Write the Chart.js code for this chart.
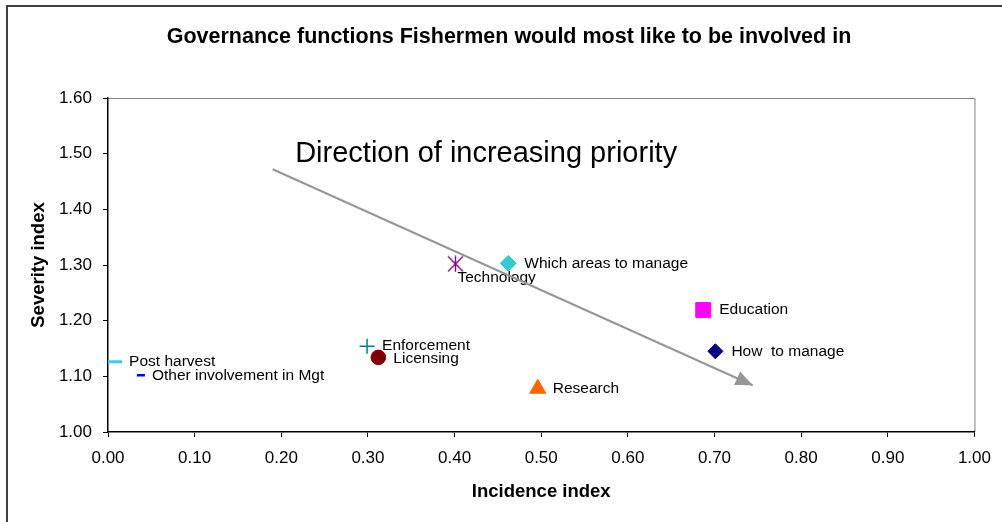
<!DOCTYPE html>
<html>
<head>
<meta charset="utf-8">
<script src="https://cdn.jsdelivr.net/npm/chart.js@4.4.1/dist/chart.umd.min.js"></script>
<style>
  html, body { margin: 0; padding: 0; background: #fff; }
  #wrap { width: 1002px; height: 522px; }
</style>
</head>
<body>
<div id="wrap"><canvas id="chart" width="1002" height="522"></canvas></div>
<script>
// Chart data
const categories = [
  'Post harvest',
  'Other involvement in Mgt',
  'Enforcement',
  'Licensing',
  'Technology',
  'Which areas to manage',
  'Education',
  'How  to manage',
  'Research'
];
const incidence = [0.007, 0.038, 0.299, 0.312, 0.401, 0.462, 0.687, 0.701, 0.496];
const severity  = [1.126, 1.102, 1.154, 1.134, 1.302, 1.303, 1.219, 1.145, 1.078];

const xTickLabels = ['0.00', '0.10', '0.20', '0.30', '0.40', '0.50', '0.60', '0.70', '0.80', '0.90', '1.00'];
const yTickLabels = ['1.00', '1.10', '1.20', '1.30', '1.40', '1.50', '1.60'];

// "Direction of increasing priority" arrow, in data units
const arrowX = [0.19, 0.744];
const arrowY = [1.472, 1.084];
const noteText = 'Direction of increasing priority';
const noteX = 0.216;
const noteY = 1.485;

const chartTitle = 'Governance functions Fishermen would most like to be involved in';

// Marker styles (one per category)
const FONT = '"Liberation Sans", Arial, sans-serif';

function starMarker(color) {
  // Excel style asterisk: X plus a vertical stroke
  const c = document.createElement('canvas');
  c.width = 17; c.height = 17;
  const g = c.getContext('2d');
  g.strokeStyle = color;
  g.lineWidth = 1.4;
  g.beginPath();
  g.moveTo(8.5, 0.5); g.lineTo(8.5, 16.5);
  g.moveTo(1, 1); g.lineTo(16, 16);
  g.moveTo(16, 1); g.lineTo(1, 16);
  g.stroke();
  return c;
}

const markerColors = ['#33CCFF', '#0000FF', '#008080', '#800000', '#800080', '#33CCCC', '#FF00FF', '#000080', '#FF6600'];
const markerStyles = ['line', 'line', 'cross', 'circle', starMarker('#800080'), 'rectRot', 'rect', 'rectRot', 'triangle'];
const markerRadius = [8, 4, 7.5, 7.3, 8, 8, 10.6, 7.5, 9.3];
const markerBorder = [3, 2.5, 1.5, 1, 1, 1, 1, 1, 1];
// label offset from the marker centre, in pixels
const labelOffset = [[15, 0], [11, 0], [15, -1], [15, 1], [2, 14], [16, 0], [16, 0], [16, 0], [15, 0]];

const points = categories.map((name, i) => ({ x: incidence[i], y: severity[i] }));

const frame = {
  id: 'frame',
  beforeDraw(chart) {
    const { ctx, chartArea: a } = chart;
    ctx.save();
    // outer chart border (runs off the right and bottom of the picture)
    ctx.strokeStyle = '#404040';
    ctx.lineWidth = 2;
    ctx.strokeRect(7, 6, 2000, 2000);
    // plot area top and right edges
    ctx.strokeStyle = '#808080';
    ctx.lineWidth = 1;
    ctx.beginPath();
    ctx.moveTo(a.left, a.top + 0.5);
    ctx.lineTo(a.right + 0.5, a.top + 0.5);
    ctx.lineTo(a.right + 0.5, a.bottom);
    ctx.stroke();
    // title
    ctx.fillStyle = '#000';
    ctx.font = 'bold 21.5px ' + FONT;
    ctx.textAlign = 'center';
    ctx.textBaseline = 'middle';
    ctx.fillText(chartTitle, 509, 37);
    ctx.restore();
  },
  beforeDatasetsDraw(chart) {
    // point labels sit under the arrow line
    const { ctx } = chart;
    const meta = chart.getDatasetMeta(1);
    ctx.save();
    ctx.fillStyle = '#000';
    ctx.font = '15.5px ' + FONT;
    ctx.textAlign = 'left';
    ctx.textBaseline = 'middle';
    meta.data.forEach((pt, i) => {
      ctx.fillText(categories[i], pt.x + labelOffset[i][0], pt.y + labelOffset[i][1]);
    });
    ctx.restore();
  },
  afterDatasetsDraw(chart) {
    const { ctx, scales } = chart;
    const meta = chart.getDatasetMeta(0);
    const p0 = meta.data[0], p1 = meta.data[1];
    const ang = Math.atan2(p1.y - p0.y, p1.x - p0.x);
    const len = 17, half = 7.5;
    ctx.save();
    ctx.fillStyle = '#969696';
    ctx.beginPath();
    ctx.moveTo(p1.x, p1.y);
    ctx.lineTo(p1.x - len * Math.cos(ang) + half * Math.sin(ang), p1.y - len * Math.sin(ang) - half * Math.cos(ang));
    ctx.lineTo(p1.x - len * Math.cos(ang) - half * Math.sin(ang), p1.y - len * Math.sin(ang) + half * Math.cos(ang));
    ctx.closePath();
    ctx.fill();
    // annotation text
    ctx.fillStyle = '#000';
    ctx.font = '29px ' + FONT;
    ctx.textAlign = 'left';
    ctx.textBaseline = 'alphabetic';
    ctx.fillText(noteText, scales.x.getPixelForValue(noteX), scales.y.getPixelForValue(noteY));
    ctx.restore();
  }
};

new Chart(document.getElementById('chart'), {
  type: 'scatter',
  data: {
    datasets: [
      {
        label: 'arrow',
        data: arrowX.map((x, i) => ({ x, y: arrowY[i] })),
        showLine: true,
        borderColor: '#969696',
        borderWidth: 2,
        pointRadius: 0
      },
      {
        label: 'functions',
        data: points,
        pointStyle: markerStyles,
        pointRadius: markerRadius,
        pointBorderWidth: markerBorder,
        pointBackgroundColor: markerColors,
        pointBorderColor: markerColors,
        showLine: false
      }
    ]
  },
  options: {
    responsive: false,
    animation: false,
    devicePixelRatio: 1,
    layout: { padding: { left: 0, right: 27, top: 98, bottom: 0 } },
    plugins: {
      legend: { display: false },
      title: { display: false },
      tooltip: { enabled: false }
    },
    scales: {
      x: {
        type: 'linear',
        min: 0,
        max: 1,
        ticks: {
          stepSize: 0.1,
          color: '#000',
          padding: 11,
          font: { family: FONT, size: 17 },
          callback: (v, i) => xTickLabels[i]
        },
        grid: { drawOnChartArea: false, drawTicks: true, tickLength: 5, color: '#000', lineWidth: 1 },
        border: { color: '#000', width: 1.5 },
        title: {
          display: true,
          text: 'Incidence index',
          color: '#000',
          font: { family: FONT, size: 18.5, weight: 'bold' },
          padding: { top: 0, bottom: 19 }
        },
        afterFit: s => { s.height = 90; }
      },
      y: {
        type: 'linear',
        min: 1,
        max: 1.6,
        ticks: {
          stepSize: 0.1,
          color: '#000',
          padding: 11,
          font: { family: FONT, size: 17 },
          callback: (v, i) => yTickLabels[i]
        },
        grid: { drawOnChartArea: false, drawTicks: true, tickLength: 5, color: '#000', lineWidth: 1 },
        border: { color: '#000', width: 1.5 },
        title: {
          display: true,
          text: 'Severity index',
          color: '#000',
          font: { family: FONT, size: 18.5, weight: 'bold' },
          padding: { top: 28, bottom: 0 }
        },
        afterFit: s => { s.width = 108; }
      }
    }
  },
  plugins: [frame]
});
</script>
</body>
</html>
